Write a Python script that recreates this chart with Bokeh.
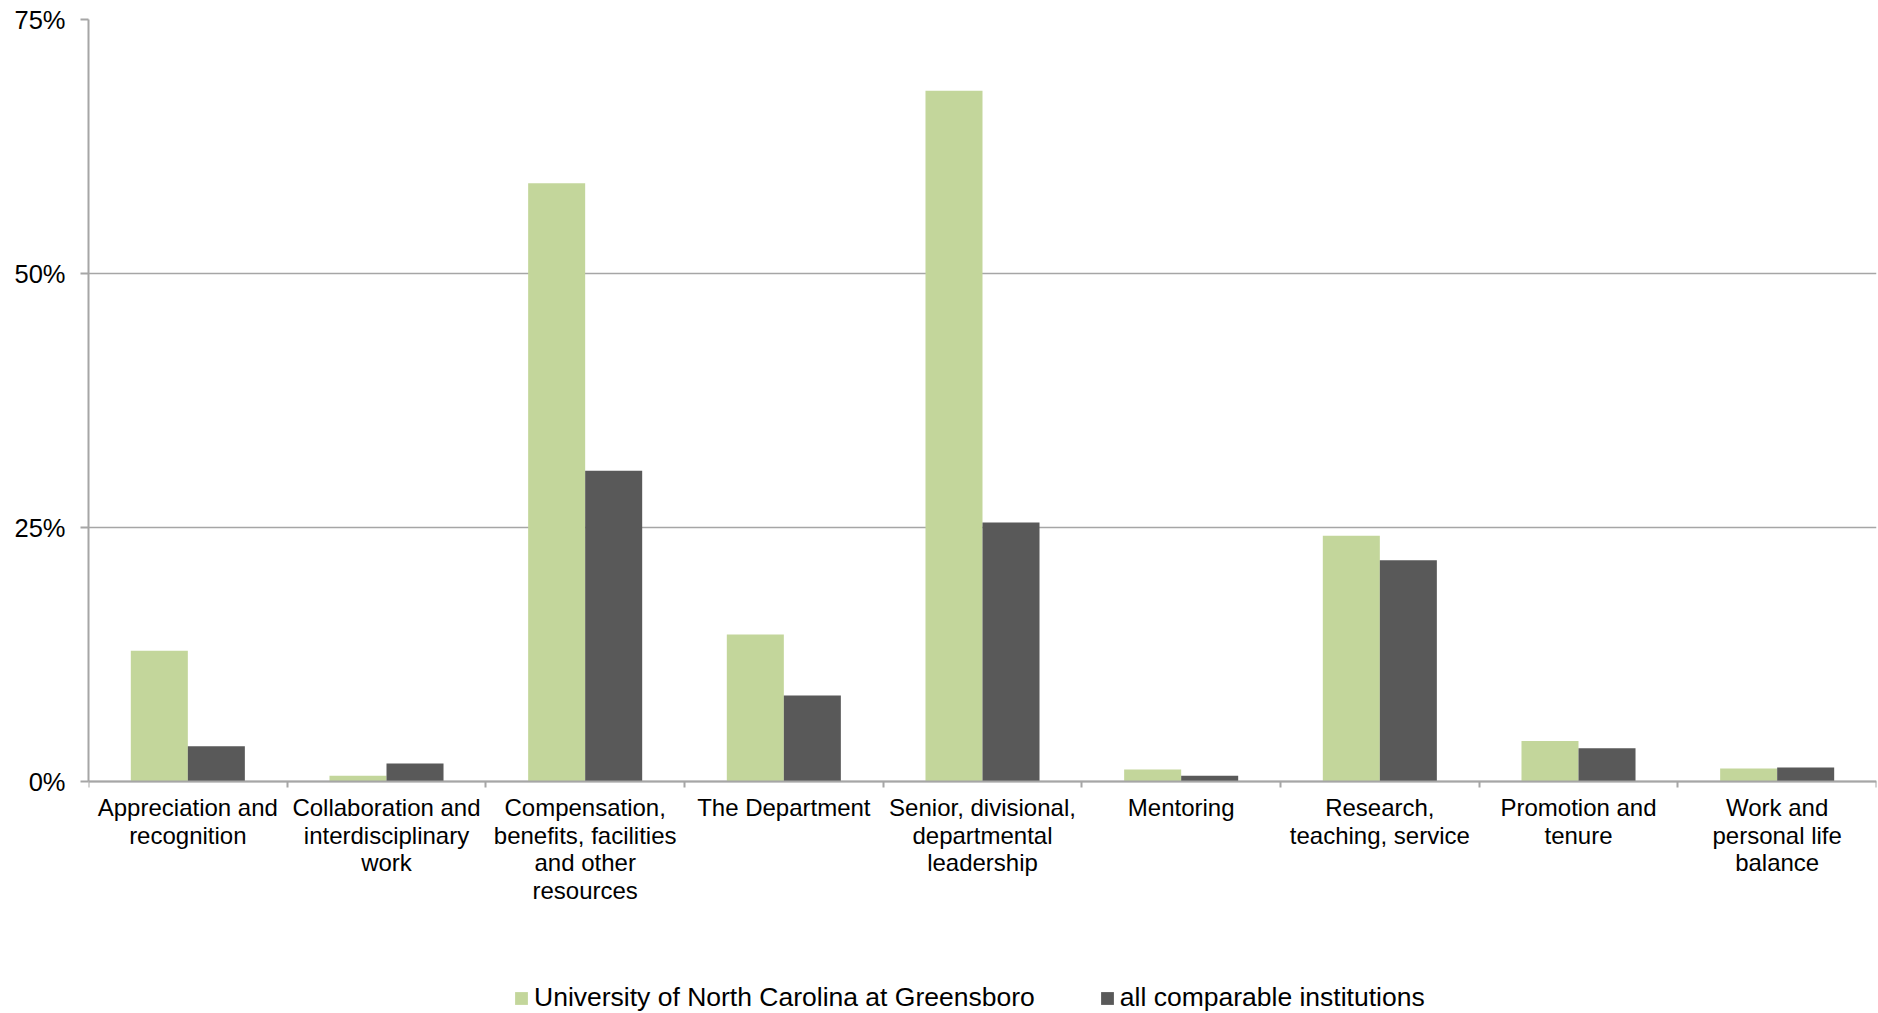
from bokeh.plotting import figure
from bokeh.models import (ColumnDataSource, FixedTicker, Range1d, Legend, LegendItem)
from bokeh.transform import dodge
from bokeh.embed import file_html
from bokeh.resources import INLINE

categories = [
    "Appreciation and\nrecognition",
    "Collaboration and\ninterdisciplinary\nwork",
    "Compensation,\nbenefits, facilities\nand other\nresources",
    "The Department",
    "Senior, divisional,\ndepartmental\nleadership",
    "Mentoring",
    "Research,\nteaching, service",
    "Promotion and\ntenure",
    "Work and\npersonal life\nbalance",
]
uncg = [12.9, 0.6, 58.9, 14.5, 68.0, 1.2, 24.2, 4.0, 1.3]
comparable = [3.5, 1.8, 30.6, 8.5, 25.5, 0.6, 21.8, 3.3, 1.4]
series_names = ["University of North Carolina at Greensboro", "all comparable institutions"]
y_ticks = [0, 25, 50, 75]
y_tick_labels = ["0%", "25%", "50%", "75%"]

FONT = "Liberation Sans"
GREEN = "#c3d69b"
DARK = "#595959"
GRAY = "#a6a6a6"

n = len(categories)
centers = [i + 0.5 for i in range(n)]
source = ColumnDataSource(dict(x=centers, uncg=uncg, comp=comparable))

# frame runs from the top gridline down to the bottom of the page; the
# value axis itself only covers 0..75, the space below 0 holds labels + legend
Y_MIN = -22.8
p = figure(width=1878, height=1013, output_backend="svg", toolbar_location=None,
           x_range=Range1d(0, n), y_range=Range1d(Y_MIN, 75),
           min_border_left=88, min_border_right=2, min_border_top=19,
           min_border_bottom=0)
p.outline_line_color = None
p.background_fill_color = "white"
p.border_fill_color = "white"

bw = 0.287
r1 = p.vbar(x=dodge("x", -bw / 2, range=p.x_range), top="uncg", width=bw, source=source,
            fill_color=GREEN, line_color=None)
r2 = p.vbar(x=dodge("x", bw / 2, range=p.x_range), top="comp", width=bw, source=source,
            fill_color=DARK, line_color=None)

# x axis, pinned at y = 0
p.xaxis.fixed_location = 0
p.xaxis.ticker = FixedTicker(ticks=centers, minor_ticks=list(range(n + 1)))
p.xaxis.major_label_overrides = {c: lab for c, lab in zip(centers, categories)}
p.xaxis.major_tick_out = 0
p.xaxis.major_tick_in = 0
p.xaxis.minor_tick_out = 6
p.xaxis.minor_tick_in = 0
p.xaxis.minor_tick_line_color = GRAY
p.xaxis.minor_tick_line_width = 2
p.xaxis.axis_line_color = GRAY
p.xaxis.axis_line_width = 2
p.xaxis.major_label_standoff = 6
p.xaxis.major_label_text_font = FONT
p.xaxis.major_label_text_font_size = "24px"
p.xaxis.major_label_text_color = "black"
p.xaxis.major_label_text_line_height = 1.03

# y axis
p.yaxis.bounds = (0, 75)
p.yaxis.ticker = FixedTicker(ticks=y_ticks)
p.yaxis.major_label_overrides = {t: l for t, l in zip(y_ticks, y_tick_labels)}
p.yaxis.major_tick_out = 8
p.yaxis.major_tick_in = 0
p.yaxis.minor_tick_line_color = None
p.yaxis.major_tick_line_color = GRAY
p.yaxis.major_tick_line_width = 2
p.yaxis.axis_line_color = GRAY
p.yaxis.axis_line_width = 2
p.yaxis.major_label_standoff = 15
p.yaxis.major_label_text_font = FONT
p.yaxis.major_label_text_font_size = "25.5px"
p.yaxis.major_label_text_color = "black"

p.xgrid.grid_line_color = None
p.ygrid.grid_line_color = GRAY
p.ygrid.grid_line_width = 1.5

legend = Legend(items=[LegendItem(label=series_names[0], renderers=[r1]),
                       LegendItem(label=series_names[1], renderers=[r2])],
                location=(425, 0), orientation="horizontal",
                label_text_font=FONT, label_text_font_size="26.5px", label_text_color="black",
                glyph_width=16, glyph_height=16, label_standoff=5, spacing=64,
                padding=0, margin=0, border_line_color=None, background_fill_alpha=0)
p.add_layout(legend, "center")

open("out.html", "w").write(file_html(p, INLINE))
